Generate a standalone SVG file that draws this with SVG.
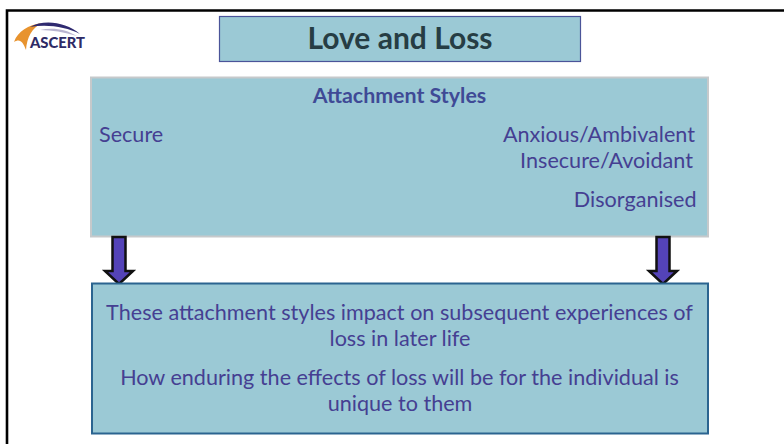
<svg xmlns="http://www.w3.org/2000/svg" width="784" height="444" viewBox="0 0 784 444">
<defs><style>
text{font-family:"Lato","Noto Sans",sans-serif}
.b{font-size:21.6px;fill:#453f92}
.arrow{fill:#5443b8;stroke:#111;stroke-width:2.500}
</style></defs>
<rect width="784" height="444" fill="#fff"/>
<path d="M7 444V10.500H784" fill="none" stroke="#000" stroke-width="2.600"/>
<g id="logo">
<path d="M14 42C18 31 28 25 42 23C32 28 27 37 26 50C23 42 20 38 14 42Z" fill="#e8932e"/>
<path d="M30 27C44 19 66 22 80 34C66 27 48 24 30 27Z" fill="#2f2a70"/>
<path d="M40 30C52 27 66 29 77 36C64 32 52 30 40 30Z" fill="#b9b4d0"/>
<text x="30" y="48" font-size="15" font-weight="900" fill="#2e2b66" textLength="55" lengthAdjust="spacingAndGlyphs">ASCERT</text>
</g>
<g id="title">
<rect x="219.500" y="16.500" width="361" height="45" fill="#9bc9d5" stroke="#4b5499" stroke-width="1.200"/>
<text x="400" y="48.500" text-anchor="middle" font-size="30" font-weight="700" fill="#263d44">Love and Loss</text>
</g>
<g id="styles">
<rect x="91" y="77.500" width="617" height="159" fill="#9bc9d5" stroke="#c6c9cb" stroke-width="2"/>
<text x="399.500" y="103" text-anchor="middle" font-size="21.400" font-weight="700" fill="#3f4a96">Attachment Styles</text>
<text class="b" x="99" y="142">Secure</text>
<text class="b" x="695" y="142" text-anchor="end">Anxious/Ambivalent</text>
<text class="b" x="693" y="168" text-anchor="end">Insecure/Avoidant</text>
<text class="b" x="696.500" y="207" text-anchor="end">Disorganised</text>
</g>
<g id="connectors">
<path class="arrow" d="M112.500 237H125.500V271H133L119 284L105 271H112.500Z"/>
<path class="arrow" d="M656.500 237H669.500V271H677L663 284L649 271H656.500Z"/>
</g>
<g id="impact">
<rect x="92" y="283.500" width="616" height="150" fill="#9bc9d5" stroke="#2b6490" stroke-width="2"/>
<g class="b" text-anchor="middle">
<text x="399.500" y="320">These attachment styles impact on subsequent experiences of</text>
<text x="400" y="346">loss in later life</text>
<text x="399.500" y="385">How enduring the effects of loss will be for the individual is</text>
<text x="400" y="411">unique to them</text>
</g>
</g>
</svg>
